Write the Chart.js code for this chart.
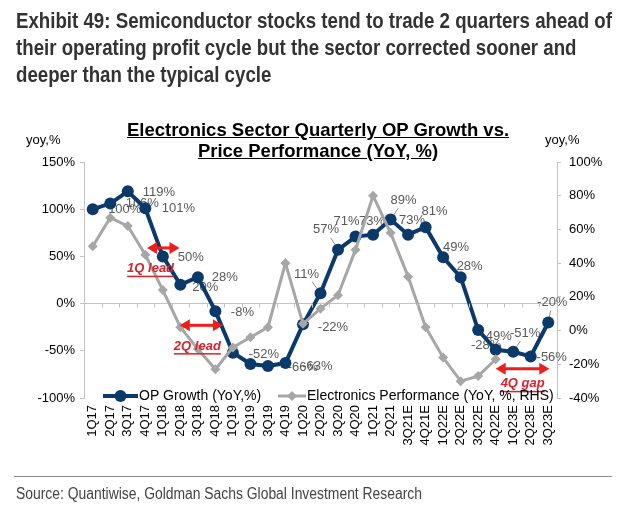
<!DOCTYPE html>
<html>
<head>
<meta charset="utf-8">
<script src="https://cdn.jsdelivr.net/npm/chart.js@4.4.0/dist/chart.umd.min.js"></script>
<style>
  body { margin: 0; background: #fff; }
  #wrap { position: relative; width: 630px; height: 513px; overflow: hidden; }
  #chart { position: absolute; left: 0; top: 0; }
  .hdr { position: absolute; left: 16px; font-family: "Liberation Sans", Arial, sans-serif; font-weight: bold; font-size: 22px; line-height: 27px; color: #333; white-space: nowrap; transform-origin: 0 0; }
  .ttl { position: absolute; left: 0; width: 636px; top: 119px; text-align: center; font-family: "Liberation Sans", Arial, sans-serif; font-weight: bold; font-size: 18.5px; line-height: 21px; color: #000; text-decoration: underline; }
  .unit { position: absolute; top: 132px; font-family: "Liberation Sans", Arial, sans-serif; font-size: 13px; color: #000; }
  .rule { position: absolute; left: 14px; width: 598px; top: 476px; height: 1px; background: #8c8c8c; }
  .src { position: absolute; left: 16px; top: 485px; font-family: "Liberation Sans", Arial, sans-serif; font-size: 16px; color: #444; white-space: nowrap; transform-origin: 0 0; }
</style>
</head>
<body>
<div id="wrap">
  <canvas id="chart" width="630" height="513"></canvas>
  <div class="hdr" id="h1" style="top:7px">Exhibit 49: Semiconductor stocks tend to trade 2 quarters ahead of</div>
  <div class="hdr" id="h2" style="top:34px">their operating profit cycle but the sector corrected sooner and</div>
  <div class="hdr" id="h3" style="top:61px">deeper than the typical cycle</div>
  <div class="ttl">Electronics Sector Quarterly OP Growth vs.<br>Price Performance (YoY, %)</div>
  <div class="unit" style="left:26px">yoy,%</div>
  <div class="unit" style="left:545px">yoy,%</div>
  <div class="rule"></div>
  <div class="src" id="src">Source: Quantiwise, Goldman Sachs Global Investment Research</div>
</div>
<script>
// data
const quarters = ['1Q17','2Q17','3Q17','4Q17','1Q18','2Q18','3Q18','4Q18','1Q19','2Q19','3Q19','4Q19',
  '1Q20','2Q20','3Q20','4Q20','1Q21','2Q21','3Q21E','4Q21E','1Q22E','2Q22E','3Q22E','4Q22E','1Q23E','2Q23E','3Q23E'];
const opGrowth = [100, 106, 119, 101, 50, 20, 28, -8, -52, -64, -66, -63,
  -22, 11, 57, 71, 73, 89, 73, 81, 49, 28, -28, -49, -51, -56, -20];
const elecPerf = [50, 67, 62, 45, 24, 2, -11, -23, -10, -4, 2, 40,
  4, 13, 21, 48, 80, 58, 32, 2, -16, -30, -27, -17, null, null, null];
const leftTicks = [-100, -50, 0, 50, 100, 150];
const rightTicks = [-40, -20, 0, 20, 40, 60, 80, 100];

// where each OP label sits relative to its point (null = not shown)
const labelPos = [[32,0],[32,0],[31,1],[33,0],[28,1],[25,3],[27,0],[27,1],[31,2],null,[35,2],[32,3],
  [30,3],[-14,-19],[-12,-20],[-9,-15],[-1,-13],[13,-19],[4,-14],[9,-16],[13,-10],[9,-11],[8,15],[1,-13],[12,-18],[21,1],[4,-20]];

// red call-outs: category index span and left-axis value
const arrows = [
  { from: 3.1, to: 4.95, y: 59, text: '1Q lead', tx: 3.3, ty: 37 },
  { from: 4.97, to: 7.43, y: -23, text: '2Q lead', tx: 5.97, ty: -45 },
  { from: 23.0, to: 26.06, y: -69, text: '4Q gap', tx: 24.54, ty: -85 }
];

// squeeze header/source text to the condensed width of the original
function squeeze(id, w) {
  const el = document.getElementById(id);
  el.style.transform = 'scaleX(' + (w / el.getBoundingClientRect().width) + ')';
}
squeeze('h1', 596);
const k = 596 / document.getElementById('h1').scrollWidth;
['h2', 'h3'].forEach(id => { document.getElementById(id).style.transform = 'scaleX(' + k + ')'; });
squeeze('src', 406);

const BLUE = '#0b3a6a';
const GREY = '#a6a6a6';
const FONT = '"Liberation Sans", Arial, sans-serif';
const AXIS = '#c4c4c4';

const labelsPlugin = {
  id: 'opLabels',
  beforeDatasetsDraw(chart) {
    const ctx = chart.ctx;
    const meta = chart.getDatasetMeta(1);
    ctx.save();
    ctx.font = '13px ' + FONT;
    ctx.fillStyle = '#595959';
    ctx.textAlign = 'center';
    ctx.textBaseline = 'middle';
    meta.data.forEach((pt, i) => {
      const p = labelPos[i];
      if (!p) return;
      const x = pt.x + p[0], y = pt.y + p[1];
      if (Math.abs(p[1]) >= 18) {
        ctx.strokeStyle = '#8c8c8c';
        ctx.lineWidth = 1;
        ctx.beginPath();
        ctx.moveTo(pt.x + p[0] * 0.25, pt.y + p[1] * 0.25);
        ctx.lineTo(pt.x + p[0] * 0.6, pt.y + p[1] * 0.6);
        ctx.stroke();
      }
      ctx.fillText(opGrowth[i] + '%', x, y);
    });
    ctx.restore();
  },
  afterDatasetsDraw(chart) {
    const ctx = chart.ctx;
    const xs = chart.scales.x, ys = chart.scales.y;
    const step = xs.getPixelForValue(1) - xs.getPixelForValue(0);
    const y0 = ys.getPixelForValue(0);
    ctx.save();
    // small ticks on the zero line
    ctx.strokeStyle = AXIS;
    ctx.lineWidth = 1;
    for (let i = 0; i <= quarters.length; i++) {
      const x = Math.round(xs.getPixelForValue(0) + (i - 0.5) * step) + 0.5;
      ctx.beginPath();
      ctx.moveTo(x, y0);
      ctx.lineTo(x, y0 + 4);
      ctx.stroke();
    }
    // red arrows and notes
    arrows.forEach(a => {
      const x1 = xs.getPixelForValue(0) + a.from * step;
      const x2 = xs.getPixelForValue(0) + a.to * step;
      const y = ys.getPixelForValue(a.y);
      ctx.strokeStyle = '#ee1c1c';
      ctx.fillStyle = '#ee1c1c';
      ctx.lineWidth = 3;
      ctx.beginPath();
      ctx.moveTo(x1 + 6, y);
      ctx.lineTo(x2 - 6, y);
      ctx.stroke();
      [[x1, 1], [x2, -1]].forEach(([x, d]) => {
        ctx.beginPath();
        ctx.moveTo(x, y);
        ctx.lineTo(x + d * 10, y - 6);
        ctx.lineTo(x + d * 10, y + 6);
        ctx.closePath();
        ctx.fill();
      });
      const tx = xs.getPixelForValue(0) + a.tx * step;
      const ty = ys.getPixelForValue(a.ty);
      ctx.font = 'italic bold 13px ' + FONT;
      ctx.fillStyle = '#d9232a';
      ctx.textAlign = 'center';
      ctx.textBaseline = 'middle';
      ctx.fillText(a.text, tx, ty);
      const w = ctx.measureText(a.text).width;
      ctx.fillRect(tx - w / 2, ty + 7, w, 1.5);
    });
    // legend
    const ly = 396;
    ctx.lineWidth = 4;
    ctx.strokeStyle = BLUE;
    ctx.beginPath(); ctx.moveTo(103, ly); ctx.lineTo(138, ly); ctx.stroke();
    ctx.fillStyle = BLUE;
    ctx.beginPath(); ctx.arc(120.5, ly, 6, 0, Math.PI * 2); ctx.fill();
    ctx.lineWidth = 3;
    ctx.strokeStyle = GREY;
    ctx.beginPath(); ctx.moveTo(278, ly); ctx.lineTo(306, ly); ctx.stroke();
    ctx.fillStyle = GREY;
    ctx.beginPath();
    ctx.moveTo(292, ly - 5); ctx.lineTo(297, ly); ctx.lineTo(292, ly + 5); ctx.lineTo(287, ly);
    ctx.closePath(); ctx.fill();
    ctx.font = '14px ' + FONT;
    ctx.fillStyle = '#000';
    ctx.textAlign = 'left';
    ctx.textBaseline = 'middle';
    ctx.fillText('OP Growth (YoY,%)', 139, ly);
    ctx.fillText('Electronics Performance (YoY, %, RHS)', 307, ly);
    ctx.restore();
  }
};

new Chart(document.getElementById('chart'), {
  type: 'line',
  data: {
    labels: quarters,
    datasets: [
      {
        label: 'Electronics Performance (YoY, %, RHS)',
        data: elecPerf,
        yAxisID: 'y1',
        borderColor: GREY,
        backgroundColor: GREY,
        borderWidth: 3,
        pointStyle: 'rectRot',
        pointRadius: 5,
        pointBorderWidth: 0,
        tension: 0,
        order: 0
      },
      {
        label: 'OP Growth (YoY,%)',
        data: opGrowth,
        yAxisID: 'y',
        borderColor: BLUE,
        backgroundColor: BLUE,
        borderWidth: 4,
        pointStyle: 'circle',
        pointRadius: 6,
        pointBorderWidth: 0,
        tension: 0,
        order: 1
      }
    ]
  },
  options: {
    responsive: false,
    devicePixelRatio: 1,
    animation: false,
    layout: { padding: { left: 24, right: 13, top: 162, bottom: 55 } },
    plugins: { legend: { display: false }, tooltip: { enabled: false } },
    scales: {
      x: {
        offset: true,
        grid: { display: false, drawTicks: false },
        border: { display: false },
        ticks: { minRotation: 90, maxRotation: 90, autoSkip: false, padding: 7, color: '#000', font: { family: FONT, size: 13 } },
        afterFit: s => { s.height = 60; }
      },
      y: {
        position: 'left',
        min: leftTicks[0],
        max: leftTicks[leftTicks.length - 1],
        ticks: { stepSize: leftTicks[1] - leftTicks[0], callback: v => v + '%', padding: 5, color: '#000', font: { family: FONT, size: 13 } },
        grid: { color: c => (c.tick && c.tick.value === 0) ? AXIS : 'rgba(0,0,0,0)', tickColor: AXIS, tickLength: 4 },
        border: { color: AXIS },
        afterFit: s => { s.width = 60; }
      },
      y1: {
        position: 'right',
        min: rightTicks[0],
        max: rightTicks[rightTicks.length - 1],
        ticks: { stepSize: rightTicks[1] - rightTicks[0], callback: v => v + '%', padding: 8, color: '#000', font: { family: FONT, size: 13 } },
        grid: { drawOnChartArea: false, tickColor: AXIS, tickLength: 4 },
        border: { color: AXIS },
        afterFit: s => { s.width = 60; }
      }
    }
  },
  plugins: [labelsPlugin]
});
</script>
</body>
</html>
